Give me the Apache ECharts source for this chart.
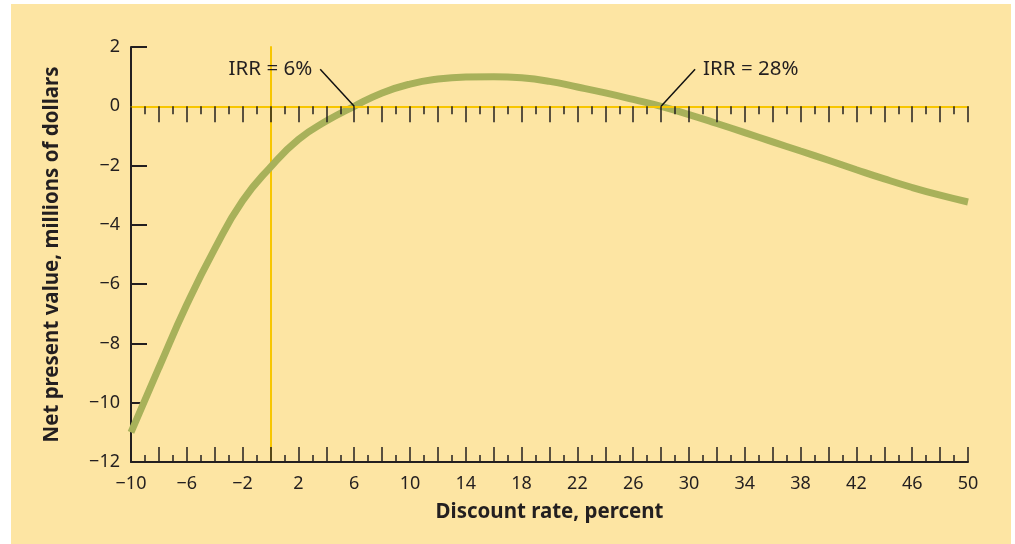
<!DOCTYPE html>
<html>
<head>
<meta charset="utf-8">
<script src="https://cdn.jsdelivr.net/npm/echarts@6/dist/echarts.min.js"></script>
<style>
  html, body { margin: 0; padding: 0; background: #fff; }
  #chart { position: absolute; left: 11px; top: 4px; width: 1000px; height: 540px; background: #fde5a3; }
</style>
</head>
<body>
<div id="chart"></div>
<script>
const discountRate = [-10, -8, -6, -4, -2, 0, 2, 4, 6, 8, 10, 12, 14, 16, 18, 20,
  22, 24, 26, 28, 30, 32, 34, 36, 38, 40, 42, 44, 46, 48, 50];
const npv = [-11.0, -8.82, -6.69, -4.81, -3.19, -2.05, -1.12, -0.5, 0.0, 0.45, 0.75, 0.92, 0.99, 1.0, 0.96, 0.84,
  0.65, 0.45, 0.23, 0.0, -0.28, -0.58, -0.89, -1.2, -1.51, -1.82, -2.14, -2.45, -2.74, -3.0, -3.23];
const irrRates = [6, 28];
const irrLabels = ["IRR = 6%", "IRR = 28%"];

const ink = "#231f20",
  gold = "#f7c600",
  font = "Noto Sans";

const minus = (v) => String(v).replace("-", "\u2212");

const chart = echarts.init(document.getElementById("chart"));

chart.setOption({
  animation: false,
  textStyle: { fontFamily: font },
  grid: { left: 120, top: 43, width: 837, height: 415 },
  xAxis: [
    {
      type: "value",
      min: -10,
      max: 50,
      interval: 2,
      position: "bottom",
      name: "Discount rate, percent",
      nameLocation: "middle",
      nameGap: 40,
      nameTextStyle: { color: ink, fontSize: 20.5, fontWeight: "bold", fontFamily: font },
      axisLine: { onZero: false, lineStyle: { color: ink, width: 2 } },
      axisTick: { inside: true, length: 15, lineStyle: { color: ink, width: 1.5 } },
      minorTick: { show: true, splitNumber: 2, length: 7, lineStyle: { color: ink, width: 1.5 } },
      splitLine: { show: false },
      axisLabel: {
        color: ink,
        fontSize: 18,
        margin: 13,
        showMinLabel: true,
        showMaxLabel: true,
        formatter: (v) => ((v + 10) % 4 === 0 ? minus(v) : ""),
      },
    },
    {
      type: "value",
      min: -10,
      max: 50,
      interval: 2,
      position: "top",
      z: 3,
      axisLine: { onZero: true, lineStyle: { color: gold, width: 2 } },
      axisTick: { inside: true, length: 16, lineStyle: { color: ink, width: 1.5 } },
      minorTick: { show: true, splitNumber: 2, length: 8, lineStyle: { color: ink, width: 1.5 } },
      splitLine: { show: false },
      axisLabel: { show: false },
    },
  ],
  yAxis: [
    {
      type: "value",
      min: -12,
      max: 2,
      interval: 2,
      position: "left",
      name: "Net present value, millions of dollars",
      nameLocation: "middle",
      nameGap: 68,
      nameTextStyle: { color: ink, fontSize: 20.5, fontWeight: "bold", fontFamily: font },
      axisLine: { onZero: false, lineStyle: { color: ink, width: 2 } },
      axisTick: { inside: true, length: 16, lineStyle: { color: ink, width: 2 } },
      splitLine: { show: false },
      axisLabel: { color: ink, fontSize: 18, margin: 11, formatter: minus },
    },
    {
      type: "value",
      min: -12,
      max: 2,
      interval: 2,
      position: "right",
      axisLine: { onZero: true, lineStyle: { color: gold, width: 2 } },
      axisTick: { show: false },
      splitLine: { show: false },
      axisLabel: { show: false },
    },
  ],
  series: [
    {
      type: "line",
      xAxisIndex: 0,
      yAxisIndex: 0,
      smooth: true,
      symbol: "none",
      z: 2,
      lineStyle: { color: "#a8b15a", width: 7, cap: "butt" },
      data: discountRate.map((r, i) => [r, npv[i]]),
    },
  ],
});

// leader lines and IRR labels, anchored on the zero crossings
const graphics = [];
irrRates.forEach((r, i) => {
  const [px, py] = chart.convertToPixel({ xAxisIndex: 0, yAxisIndex: 0 }, [r, 0]);
  const dir = i === 0 ? -1 : 1;
  const ex = px + dir * 34,
    ey = py - 37;
  graphics.push({
    type: "line",
    z: 10,
    shape: { x1: px, y1: py, x2: ex, y2: ey },
    style: { stroke: "#111", lineWidth: 1.5 },
  });
  graphics.push({
    type: "text",
    z: 10,
    x: ex + dir * 8,
    y: ey,
    style: {
      text: irrLabels[i],
      fill: ink,
      font: "20.5px " + font,
      align: dir < 0 ? "right" : "left",
      verticalAlign: "middle",
    },
  });
});
chart.setOption({ graphic: graphics });
</script>
</body>
</html>
